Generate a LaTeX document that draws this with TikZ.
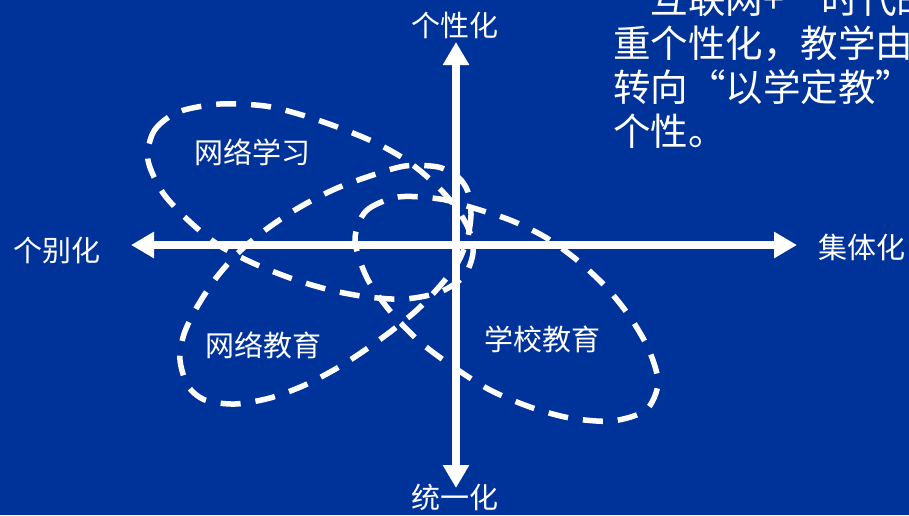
\documentclass[tikz,border=0pt]{standalone}
\usepackage{fontspec}
\newfontfamily\cjk{Noto Sans CJK SC}
\newfontfamily\cjkfw[CharacterWidth=Full]{Noto Sans CJK SC}
\usetikzlibrary{arrows.meta}
\definecolor{bgblue}{RGB}{0,51,153}
\begin{document}
\begin{tikzpicture}[x=1pt,y=-1pt,
  axisline/.style={white, line width=7.5pt, {Triangle[length=23pt,width=25pt]}-{Triangle[length=23pt,width=25pt]}},
  petal/.style={white, line width=5.5pt, dash pattern=on 20pt off 15pt},
  lbl/.style={white, font=\cjk\fontsize{29}{29}\selectfont, inner sep=0pt, anchor=base},
  body/.style={white, font=\cjk\fontsize{37.5}{37.5}\selectfont, inner sep=0pt, anchor=base west}]
\path[use as bounding box, fill=bgblue] (0,0) rectangle (909,515);
\clip (0,0) rectangle (909,515);
% axes
\coordinate (L) at (131,245);
\coordinate (R) at (797,245);
\coordinate (T) at (456,42);
\coordinate (B) at (456,488);
\draw[axisline] (L) -- (R);
\draw[axisline] (T) -- (B);
% petals
\draw[petal] plot[smooth cycle] coordinates {(148,160) (154,131) (178,112) (220,104) (265,106) (302,115) (340,128) (376,143) (406,160) (433,182) (455,206) (469,230) (473,253) (464,276) (440,292) (405,299) (368,297) (330,290) (293,279) (255,264) (220,246) (190,222) (163,193)};
\draw[petal] plot[smooth cycle] coordinates {(468,192) (471,215) (467,240) (457,264) (439,287) (418,309) (394,329) (368,348) (339,367) (305,385) (270,398) (235,404) (205,400) (188,386) (180,360) (184,334) (197,307) (216,278) (240,251) (268,228) (300,207) (335,189) (370,176) (405,166) (438,167) (458,177)};
\draw[petal] plot[smooth cycle] coordinates {(355,240) (366,211) (398,197) (440,199) (470,207) (510,220) (545,237) (577,260) (606,287) (630,317) (649,350) (658,383) (646,410) (612,421) (570,418) (530,407) (490,390) (455,368) (420,342) (390,311) (367,278)};
% axis labels
\node[lbl] (top) at (455,36) {个性化};
\node[lbl] (bot) at (455,508) {统一化};
\node[lbl] (lft) at (57,261) {个别化};
\node[lbl] (rgt) at (862,258) {集体化};
% petal labels
\node[lbl] (p1) at (252,163) {网络学习};
\node[lbl] (p2) at (263,356) {网络教育};
\node[lbl] (p3) at (542,350) {学校教育};
% body text
\node[body] (t1) at (613,13) {{\cjkfw “}互联网+{\cjkfw ”}时代的};
\node[body] (t2) at (613,57) {重个性化，教学由};
\node[body] (t3) at (613,101) {转向{\cjkfw “}以学定教{\cjkfw ”}};
\node[body] (t4) at (613,145) {个性。};
\end{tikzpicture}
\end{document}
